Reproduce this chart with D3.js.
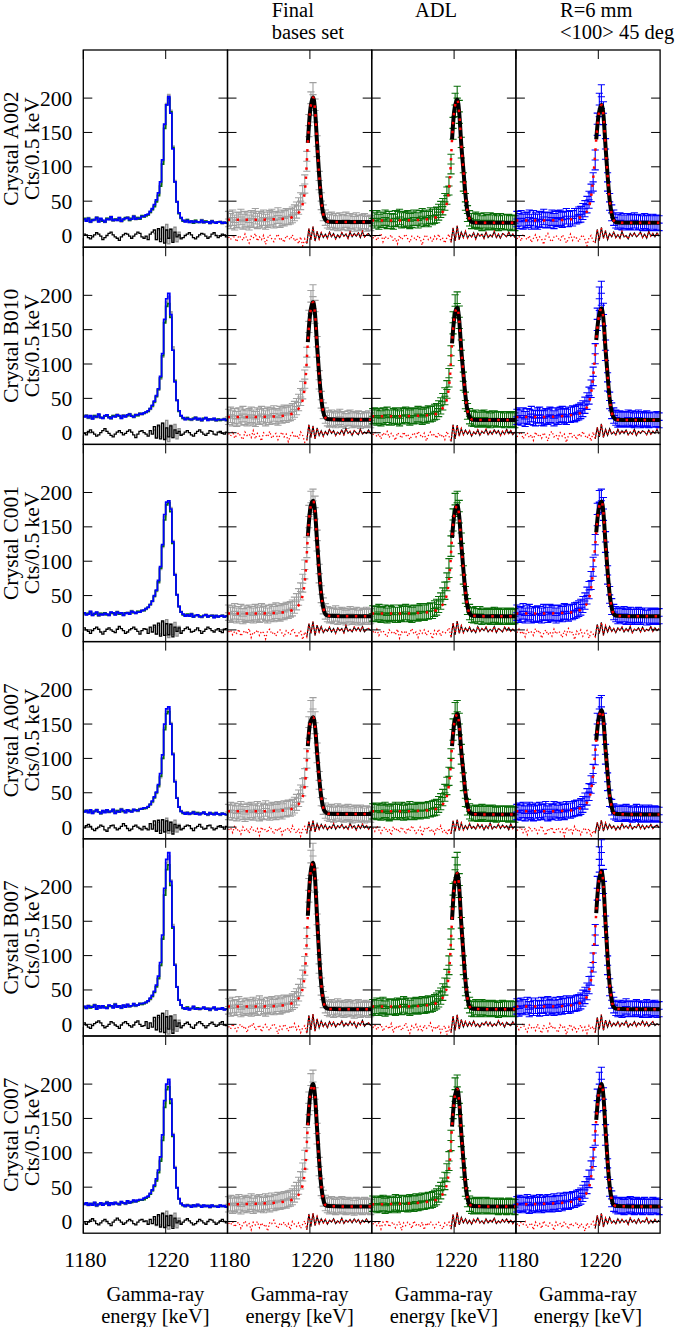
<!DOCTYPE html>
<html><head><meta charset="utf-8">
<script src="https://cdn.jsdelivr.net/npm/d3@7"></script>
<style>
body{margin:0;background:#fff}
svg{display:block}
</style>
</head><body>
<svg id="c" width="685" height="1327" font-family="'Liberation Serif', Tinos, 'Times New Roman', 'DejaVu Serif', serif" font-size="21.5"></svg>
<script>
// ---------- categories / labels ----------
const crystals = ["A002","B010","C001","A007","B007","C007"];
const methodTitles = [["Final","bases set"],["ADL"],["R=6 mm","<100> 45 deg"]];
const xTicks = [1180, 1220];
const yTicks = [0, 50, 100, 150, 200];
// fit curve read at these energies (keV)
const fitKnots = [1180,1195,1205,1210,1212,1214,1215,1216,1217,1218,1219,1220,1221,1221.6,1222.5,1223.5,1224.5,1225.5,1226.5,1227.5,1229,1235,1250];

// ---------- spectra (counts per 1 keV bin, first bin 1180-1181 keV) ----------
const final_A002 = [24,21,26,19,23,22,27,20,24,22,19,25,23,28,21,24,22,26,20,23,25,27,22,24,29,23,26,25,28,27,28,30,33,37,43,50,60,75,108,160,192,205,182,130,80,50,33,26,22,20,23,19,21,18,22,20,19,23,18,21,20,17,22,19,18,20,21,17,19,18];
const adl_A002 = [25,22,25,20,23,23,26,21,24,21,20,25,24,27,22,24,23,25,21,23,26,26,22,25,28,24,26,24,29,27,29,30,34,38,42,49,58,72,104,156,190,200,180,128,78,49,32,25,21,21,23,20,21,18,22,19,20,22,19,21,20,18,21,19,19,20,20,18,19,18];
const r6_A002 = [24,21,25,20,22,23,26,20,25,22,20,24,23,27,22,23,22,26,21,24,25,26,23,24,28,24,25,25,28,28,30,31,35,39,45,52,62,78,110,162,190,202,178,126,78,49,33,26,22,20,22,19,21,19,21,20,19,22,19,20,20,18,21,19,18,20,20,18,19,18];

const final_B010 = [23,26,21,24,20,25,22,27,23,21,24,26,22,20,25,23,27,24,21,26,23,25,28,24,22,27,25,29,26,28,29,31,34,38,44,52,62,78,110,162,190,198,176,125,77,48,32,25,21,19,22,20,18,21,23,19,20,17,21,22,18,20,19,21,17,20,18,19,21,18];
const adl_B010 = [24,25,22,24,21,25,23,26,22,22,24,25,23,21,25,24,26,24,22,25,24,25,27,25,23,26,25,28,27,28,30,31,35,39,45,53,63,80,112,160,184,188,168,120,75,47,31,24,21,20,22,19,19,21,22,19,20,18,21,21,19,20,19,20,18,20,18,19,20,18];
const r6_B010 = [23,25,22,25,20,24,23,27,22,21,25,26,22,21,24,23,26,25,21,25,23,26,27,24,23,26,26,28,27,29,30,32,35,40,46,54,64,82,115,165,195,203,172,120,74,47,32,25,22,19,21,20,19,20,22,19,21,18,20,22,18,20,19,21,18,19,19,19,20,18];

const final_C001 = [25,22,24,27,21,23,26,20,24,22,25,23,21,26,24,22,27,23,25,21,24,26,23,28,25,24,27,26,29,28,30,32,36,41,48,56,68,88,120,165,185,188,178,130,82,52,35,27,23,21,22,20,24,19,21,22,20,18,21,23,19,20,22,18,21,19,20,22,19,20];
const adl_C001 = [24,23,24,26,22,23,25,21,24,23,25,22,22,25,24,23,26,23,24,22,25,25,24,27,25,25,27,27,28,28,31,33,37,42,49,57,70,90,122,160,182,185,172,126,80,51,34,26,22,21,23,20,23,19,21,21,20,19,21,22,19,20,21,19,21,19,20,21,19,20];
const r6_C001 = [25,22,23,27,21,24,26,21,23,22,24,23,21,26,25,22,26,24,25,21,24,25,23,27,26,24,26,26,28,29,31,33,37,42,50,58,72,92,124,168,186,188,176,128,80,51,34,26,23,20,22,20,23,19,21,22,19,19,21,22,19,21,21,18,21,19,20,21,19,20];

const final_A007 = [22,25,21,24,20,23,26,22,19,24,22,25,21,23,26,20,24,22,27,23,21,25,24,22,26,25,23,27,26,28,27,29,32,36,42,49,58,72,100,145,168,172,152,108,68,43,30,24,21,19,22,18,20,23,19,21,18,20,22,19,17,21,20,18,21,19,17,20,19,18];
const adl_A007 = [23,24,22,24,21,23,25,22,20,23,22,25,22,23,25,21,24,22,26,23,22,25,24,23,25,25,24,26,26,27,28,29,33,37,43,50,60,74,100,142,165,168,150,106,66,42,29,23,20,20,21,19,20,22,19,21,19,20,21,19,18,20,20,19,20,19,18,20,19,18];
const r6_A007 = [22,24,21,25,20,23,25,22,20,24,21,25,22,23,26,20,23,22,26,24,21,25,23,22,26,24,24,26,27,28,28,30,33,38,44,51,62,78,105,150,172,175,150,106,66,42,29,23,21,19,21,19,20,22,19,20,18,20,22,19,18,21,19,18,21,19,18,20,19,18];

const final_B007 = [26,23,28,24,25,29,22,26,24,27,25,23,28,26,24,30,25,27,23,28,26,29,25,27,30,26,28,31,29,30,31,33,36,40,46,54,66,85,125,195,235,245,210,145,88,55,36,28,24,22,25,21,23,26,22,24,21,23,25,22,24,20,23,25,21,23,22,24,21,22];
const adl_B007 = [25,24,27,24,26,28,23,26,25,26,25,24,27,26,25,29,26,27,24,27,26,28,26,27,29,27,28,30,29,30,32,34,37,41,47,55,67,86,124,188,225,232,202,140,86,54,35,28,23,22,25,22,23,25,22,24,22,23,24,22,23,21,23,24,22,23,22,23,22,22];
const r6_B007 = [26,23,27,25,25,28,22,27,24,27,24,23,28,27,24,29,25,27,24,28,25,29,26,27,30,27,28,30,30,31,32,34,38,42,48,57,70,90,130,198,240,250,208,142,86,54,35,28,24,22,24,21,23,26,22,23,22,23,25,22,23,21,23,25,21,23,22,24,21,22];

const final_C007 = [25,27,23,26,24,28,22,25,27,24,26,29,23,27,25,28,26,24,29,27,25,30,27,28,31,29,30,32,31,33,34,36,40,45,52,60,72,90,122,172,198,203,178,128,80,50,34,27,24,22,25,23,21,24,22,25,23,21,24,22,23,20,24,22,23,21,24,22,23,21];
const adl_C007 = [26,26,24,26,25,27,23,25,26,24,26,28,24,27,26,27,26,25,28,27,26,29,27,28,30,29,30,31,31,32,34,36,40,45,51,59,71,88,118,166,192,196,172,124,78,49,33,26,23,22,24,23,22,24,22,24,23,22,23,22,23,21,23,22,22,21,23,22,22,21];
const r6_C007 = [25,27,24,26,24,28,23,25,27,24,26,28,24,27,25,28,26,25,29,27,26,30,27,29,31,29,31,32,32,34,35,37,41,46,53,62,75,94,126,176,200,207,178,126,78,49,33,26,24,22,24,23,21,24,22,25,23,21,24,22,23,21,24,22,22,21,24,22,23,21];

// ---------- fitted curves (values at fitKnots) ----------
const fitFinal_A002 = [23,23,24,25,28,32,35,41,53,80,135,178,197,201,182,134,88,52,31,23,20,19.5,19.5];
const fitAdl_A002   = [22,22,23,25,28,33,36,42,55,84,140,180,195,198,178,132,96,60,35,24,19,18.5,18.4];
const fitR6_A002    = [22,22,23,25,28,33,38,48,68,100,140,172,187,190,175,130,88,52,31,22,19,18.5,18.5];
const fitFinal_B010 = [23,23,24,26,29,33,37,43,55,82,132,170,187,190,172,126,84,50,30,22,19.5,19,19];
const fitAdl_B010   = [24,24,25,26,29,34,38,44,56,82,130,165,180,182,163,120,86,54,32,23,19,18.5,18.5];
const fitR6_B010    = [23,23,25,27,30,35,40,50,68,98,135,164,178,181,165,122,84,50,30,22,19,18.5,18.5];
const fitFinal_C001 = [24,24,25,27,30,34,38,45,58,86,136,172,186,188,172,128,86,52,32,23,20.5,20,20];
const fitAdl_C001   = [24,24,25,27,30,35,39,46,60,88,134,166,179,181,165,124,88,56,34,24,20.5,20,20];
const fitR6_C001    = [24,24,25,27,31,36,42,52,72,104,142,172,185,187,170,126,86,52,32,23,20.5,20,20];
const fitFinal_A007 = [23,23,24,25,28,32,35,40,50,74,118,150,158,160,146,108,72,44,28,22,19.5,19,19];
const fitAdl_A007   = [23,23,24,25,28,32,35,41,52,76,118,150,162,165,148,110,80,50,31,22,19,18.5,18.5];
const fitR6_A007    = [23,23,24,26,29,34,38,46,64,92,126,155,167,170,155,114,78,46,29,21,19,18.5,18.5];
const fitFinal_B007 = [26,26,27,29,32,36,40,47,60,92,158,210,232,235,212,155,100,58,35,25,22.5,22,22];
const fitAdl_B007   = [26,26,27,29,32,37,41,48,62,94,152,198,216,220,198,146,104,64,38,26,22.5,22,22];
const fitR6_B007    = [26,26,27,29,33,38,44,56,78,115,162,202,219,223,202,148,98,58,35,25,22.5,22,22];
const fitFinal_C007 = [25,26,28,30,33,37,41,48,60,88,140,180,197,200,182,134,88,52,32,24,22.5,22,22];
const fitAdl_C007   = [25,26,28,30,33,38,42,49,62,90,138,175,190,193,174,128,90,56,34,25,22.5,22,22];
const fitR6_C007    = [25,26,28,31,35,40,46,56,76,108,148,182,197,200,182,134,88,52,32,24,22.5,22,22];

// ---------- residuals ----------
// first column: black residual (70 bins) and grey residual around the peak (bins from 1214 keV)
const res1_A002 = [2,1,-3,-5,-2,1,4,2,-1,-6,-3,0,3,5,1,-2,-4,-7,-2,1,3,2,-1,-4,-1,2,5,3,-2,-4,-1,-6,2,5,8,-6,10,-9,12,-11,8,-4,9,-10,5,-2,1,-5,-3,0,2,4,1,-3,-5,-2,1,3,2,-1,-4,-2,2,4,0,-3,-1,2,1,-2];
const res1g_A002 = [3,-6,8,-5,12,-10,16,-12,10,-8,12,-9,5,-3];
const res1_B010 = [-1,-3,2,4,1,-2,-5,-3,0,3,6,2,-1,-4,-6,-2,1,3,0,-3,-1,2,4,1,-3,-7,-2,2,3,0,-2,-5,3,-2,9,-8,11,-9,14,-10,7,-6,10,-7,4,-1,2,-4,-2,1,3,0,-3,-5,-1,2,4,1,-2,-4,-1,3,2,-2,-3,1,2,-1,-2,1];
const res1g_B010 = [4,-7,9,-6,14,-9,18,-13,11,-7,12,-9,6,-3];
const res1_C001 = [3,0,-2,-5,-1,2,4,1,-3,-6,-2,1,3,0,-2,-4,1,5,2,-1,-5,-3,0,2,4,1,-2,-6,-1,2,1,-5,4,-3,7,-6,10,-9,13,-8,9,-7,8,-10,4,-2,3,-5,-1,2,4,1,-3,-2,0,3,-1,-5,-2,1,4,2,-1,-3,0,2,-2,-4,1,2];
const res1g_C001 = [4,-6,7,-6,11,-8,15,-11,9,-7,11,-9,5,-4];
const res1_A007 = [-1,2,4,1,-3,-5,-2,0,3,1,-4,-6,-1,2,3,-1,-4,-2,1,5,2,-2,-5,-3,1,3,0,-2,-4,1,-2,-4,5,-3,9,-6,10,-9,11,-7,9,-5,7,-10,4,-1,2,-4,-2,1,3,2,-2,-5,-1,1,4,0,-3,-2,2,3,-1,-4,-2,1,2,0,-3,1];
const res1g_A007 = [3,-5,7,-5,10,-7,13,-9,8,-6,10,-7,4,-3];
const res1_B007 = [2,-1,-4,-6,-2,1,3,5,2,-2,-5,-3,0,4,2,-1,-3,-6,-1,2,4,1,-2,-4,-1,3,5,0,-3,-2,4,-6,2,-4,10,-8,13,-11,16,-12,11,-7,12,-13,6,-3,2,-5,-2,1,3,0,-4,-6,-1,2,4,1,-2,-5,-2,1,3,0,-3,-1,2,4,-1,-2];
const res1g_B007 = [5,-8,10,-7,16,-11,20,-14,12,-8,14,-10,6,-4];
const res1_C007 = [-2,-4,-1,2,4,1,-3,-5,-2,1,3,0,-3,-6,-1,2,5,2,-1,-4,-2,1,3,1,-3,-5,-1,2,3,0,1,-4,3,-3,7,-5,10,-8,12,-9,8,-6,9,-10,5,-2,1,-4,-1,2,4,1,-2,-5,-3,0,3,1,-2,-4,0,3,2,-1,-4,-2,1,3,0,-2];
const res1g_C007 = [3,-6,8,-5,11,-8,15,-11,9,-7,12,-9,5,-3];

// fit residuals (data - fit), 70 bins
const resFinal_A002 = [-2,-6,1,-4,-9,0,-3,-7,2,-5,-11,-1,-4,3,-8,-2,-6,0,-13,-3,1,-5,-9,-2,2,-7,-4,-10,0,-3,-6,1,-8,-4,-12,-2,-15,-5,-12,10,-6,13,-8,6,-5,4,-3,2,-4,5,-2,3,-5,1,-3,4,-1,2,-4,5,-2,3,-1,4,-3,6,-2,1,3,-2];
const resAdl_A002 = [-4,0,-7,-2,3,-9,-1,-5,-3,1,-8,-4,-12,0,-6,-2,2,-5,-10,-1,-3,-7,0,-4,-14,-2,1,-6,-3,-9,-1,-5,2,-7,-4,-11,-3,2,-10,11,-8,14,-6,5,-3,6,-4,1,-2,4,-5,3,-1,2,-4,5,-3,1,-2,6,-3,2,-4,3,1,-2,5,-1,2,-3];
const resR6_A002 = [-5,-1,-8,2,-3,-6,0,-10,-4,1,-7,-2,-5,-13,-1,3,-6,-9,-2,0,-4,-8,1,-3,-11,-5,2,-7,-1,-4,-9,-2,1,-6,-15,-3,0,-8,-11,9,-7,12,-4,7,-6,3,-2,5,-3,1,-4,6,-2,0,-5,3,-1,4,-2,1,5,-3,2,-4,6,-1,3,-2,4,-1];
const resFinal_B010 = [-1,-5,2,-8,-3,0,-6,-10,1,-4,-2,-7,3,-9,-1,-5,-12,0,-3,-6,2,-8,-4,-1,-10,-3,1,-6,-2,-13,-5,0,-7,-3,-9,1,-4,-14,-11,12,-7,10,-9,7,-4,3,-5,2,-3,5,-1,3,-4,1,-2,4,-3,6,-1,2,-4,3,0,-3,5,-2,1,-1,4,-2];
const resAdl_B010 = [-3,1,-6,-2,-9,0,-4,2,-7,-1,-5,-11,0,-3,-8,1,-5,-2,-10,-4,0,-6,2,-3,-7,-1,-12,-4,1,-5,-2,-8,0,-6,-3,-10,2,-5,-13,12,-9,11,-5,6,-3,4,-2,3,-5,1,-2,4,-4,2,-1,5,-3,2,-2,4,-1,3,-4,2,-2,5,-1,3,-3,1];
const resR6_B010 = [-6,-2,1,-9,-4,0,-7,-3,-11,1,-5,-2,-8,0,-4,-12,-1,2,-6,-3,-9,0,-5,-2,-14,-4,1,-7,-3,-10,-1,-6,2,-4,-8,-3,-12,1,-9,8,-6,13,-7,5,-4,6,-2,1,-3,5,-2,3,-1,4,-3,1,-2,5,-4,2,-1,3,1,-3,4,-2,2,-1,5,-2];
const resFinal_C001 = [-3,0,-7,-2,-5,1,-9,-4,-1,-6,2,-11,-3,-5,0,-8,-2,-4,-13,-1,1,-6,-3,-9,-2,0,-5,-10,-1,-4,-7,2,-3,-11,-5,-1,-14,-3,-10,9,-5,12,-8,7,-3,5,-4,1,-2,4,-3,2,-5,3,-1,2,-4,6,-2,1,-3,4,-1,3,-2,5,-3,1,2,-1];
const resAdl_C001 = [-2,-5,1,-8,-3,-1,-6,-10,0,-4,-2,-7,1,-12,-3,-5,-1,-9,-4,2,-6,-3,-11,-1,-5,0,-8,-2,-4,-13,-1,-6,1,-9,-3,-5,-2,3,-11,10,-7,13,-5,6,-4,3,-2,4,-3,1,-4,5,-2,2,-1,4,-3,1,-2,5,-4,2,0,-3,4,-1,3,-2,1,-2];
const resR6_C001 = [-4,1,-6,-2,-10,0,-5,-3,-8,2,-4,-1,-12,-5,0,-7,-3,-9,1,-6,-2,-4,-11,-1,-7,2,-5,-3,-14,-2,-6,0,-9,-4,-1,-12,-3,-6,-10,8,-5,11,-8,6,-3,5,-2,2,-4,3,-1,4,-3,2,-2,5,-4,1,-1,3,-3,4,-2,1,-1,5,-2,3,-1,2];
const resFinal_A007 = [-4,-1,-8,2,-5,-3,-10,0,-6,-2,-9,1,-4,-7,-2,-12,0,-5,-3,-8,1,-4,-10,-2,-6,0,-11,-3,-5,-1,-8,2,-4,-9,-2,-13,-3,1,-9,8,-6,10,-7,5,-3,4,-2,3,-4,1,-2,5,-3,2,-1,4,-2,1,-3,5,-1,2,-4,3,-2,4,-1,2,-3,1];
const resAdl_A007 = [-1,-6,2,-4,-9,-2,0,-7,-3,-12,1,-5,-2,-8,0,-4,-10,-1,-6,2,-3,-9,-5,0,-13,-2,-4,1,-7,-3,-10,-1,-5,2,-8,-4,-11,-2,-10,9,-6,11,-5,6,-4,2,-3,5,-2,1,-3,4,-1,3,-4,2,-2,6,-3,1,-1,4,-2,3,-1,2,-4,5,-2,1];
const resR6_A007 = [-5,-2,0,-8,-3,-11,1,-6,-4,-1,-9,-3,2,-7,-12,-2,-5,0,-10,-4,-1,-7,-3,-13,0,-5,-2,-9,1,-6,-3,-11,-4,-1,-8,-2,-14,-5,-9,7,-5,10,-6,6,-3,4,-2,2,-4,1,-3,5,-1,2,-2,4,-3,1,-1,5,-2,3,-3,2,-1,4,-2,1,3,-1];
const resFinal_B007 = [-3,-7,1,-5,-10,-2,0,-6,-3,-12,-1,-4,2,-8,-5,-1,-11,-3,0,-6,-9,-2,1,-5,-14,-3,-7,0,-4,-10,-2,-6,1,-8,-3,-12,-5,-2,-13,13,-8,15,-10,8,-5,5,-3,2,-5,4,-2,3,-4,1,-1,5,-3,2,-2,4,-1,3,-5,2,-1,6,-3,1,2,-2];
const resAdl_B007 = [-5,-1,-8,-3,0,-10,-4,-2,-7,1,-12,-3,-6,-1,-9,-4,2,-7,-13,-2,-5,0,-8,-3,-11,-1,-6,-4,2,-9,-3,-7,-1,-12,-5,-2,-15,-4,-12,12,-9,14,-7,7,-4,4,-3,3,-2,5,-3,1,-4,2,-1,4,-2,3,-3,1,-2,5,-1,2,-4,3,0,-2,4,-1];
const resR6_B007 = [-2,-8,-4,1,-6,-11,-1,-5,-3,-9,0,-7,-13,-2,-4,-10,1,-6,-3,-8,-12,-1,-5,-2,-15,-4,0,-8,-3,-11,-6,-1,-9,-4,-13,-2,-7,-3,-12,10,-7,14,-9,6,-4,5,-3,2,-2,4,-3,2,-1,5,-4,1,-2,4,-3,2,-1,5,-2,3,-3,1,4,-2,1,-1];
const resFinal_C007 = [-2,-5,0,-8,-3,-1,-10,-4,1,-6,-3,-12,-1,-5,0,-9,-2,-7,-4,-14,-1,-3,2,-6,-10,-2,-5,-1,-8,-3,-12,0,-4,-7,-2,-10,-4,1,-12,11,-7,12,-6,7,-3,4,-2,3,-4,2,-1,4,-3,1,-2,5,-3,2,-1,3,-2,4,-1,3,-3,2,-1,4,-2,1];
const resAdl_C007 = [-4,0,-6,-2,-11,-1,-5,2,-8,-3,-1,-9,-4,0,-13,-2,-6,-1,-4,-10,1,-5,-3,-8,-1,-12,-2,-6,0,-4,-9,-3,-1,-7,-11,-2,-5,-1,-11,10,-8,13,-5,6,-2,4,-3,2,-4,3,-1,5,-2,1,-3,4,-2,2,-1,5,-3,1,-2,3,-1,4,-2,2,-3,1];
const resR6_C007 = [-3,-7,-1,-4,0,-9,-5,-2,-12,-1,-6,-3,-10,1,-5,-8,-2,-4,-13,-1,-6,-3,-9,0,-5,-11,-2,-7,-4,-1,-10,-3,-6,-14,-2,-8,-4,0,-10,9,-6,12,-8,5,-3,6,-2,1,-3,4,-2,3,-1,2,-4,5,-1,2,-3,4,-2,1,-1,5,-3,2,-2,3,-1,2];

// ---------- table built from the arrays ----------
const rows = [
  {name:"A002", spec:[final_A002,adl_A002,r6_A002], fit:[fitFinal_A002,fitAdl_A002,fitR6_A002], res:[resFinal_A002,resAdl_A002,resR6_A002], res1:res1_A002, res1g:res1g_A002},
  {name:"B010", spec:[final_B010,adl_B010,r6_B010], fit:[fitFinal_B010,fitAdl_B010,fitR6_B010], res:[resFinal_B010,resAdl_B010,resR6_B010], res1:res1_B010, res1g:res1g_B010},
  {name:"C001", spec:[final_C001,adl_C001,r6_C001], fit:[fitFinal_C001,fitAdl_C001,fitR6_C001], res:[resFinal_C001,resAdl_C001,resR6_C001], res1:res1_C001, res1g:res1g_C001},
  {name:"A007", spec:[final_A007,adl_A007,r6_A007], fit:[fitFinal_A007,fitAdl_A007,fitR6_A007], res:[resFinal_A007,resAdl_A007,resR6_A007], res1:res1_A007, res1g:res1g_A007},
  {name:"B007", spec:[final_B007,adl_B007,r6_B007], fit:[fitFinal_B007,fitAdl_B007,fitR6_B007], res:[resFinal_B007,resAdl_B007,resR6_B007], res1:res1_B007, res1g:res1g_B007},
  {name:"C007", spec:[final_C007,adl_C007,r6_C007], fit:[fitFinal_C007,fitAdl_C007,fitR6_C007], res:[resFinal_C007,resAdl_C007,resR6_C007], res1:res1_C007, res1g:res1g_C007}
];

// ---------- drawing ----------
const svg = d3.select("#c");
const L = 83.3, T = 50, CW = 144.2, RH = 197.2;
const x = d3.scaleLinear().domain([1180, 1250]).range([0, CW]);
const y = d3.scaleLinear().domain([-17, 270]).range([RH, 0]);
const colors = ["#a0a0a0", "#0a6e0a", "#0000ff"];
const bkgVar = 100; // extra variance seen in the error bars

const stepLine = d3.line().x(d => x(d[0])).y(d => y(d[1])).curve(d3.curveStepAfter);
const edges = (arr, x0) => arr.map((v, i) => [x0 + i, v]).concat([[x0 + arr.length, arr[arr.length - 1]]]);
const centers = (arr, x0) => arr.map((v, i) => [x0 + 0.5 + i, v]);
const line = d3.line().x(d => x(d[0])).y(d => y(d[1]));
const fitLine = d3.line().x(d => x(d[0])).y(d => y(d[1])).curve(d3.curveMonotoneX);

rows.forEach((row, r) => {
  const top = T + r * RH;
  // first column: overlaid spectra
  const g0 = svg.append("g").attr("transform", `translate(${L},${top})`);
  row.spec.forEach((s, k) => {
    g0.append("path").attr("d", stepLine(edges(s, 1180)))
      .attr("fill", "none").attr("stroke", colors[k]).attr("stroke-width", 1.7);
  });
  g0.append("path").attr("d", stepLine(edges(row.res1g, 1214)))
    .attr("fill", "none").attr("stroke", "#8c8c8c").attr("stroke-width", 1.4);
  g0.append("path").attr("d", stepLine(edges(row.res1, 1180)))
    .attr("fill", "none").attr("stroke", "#000").attr("stroke-width", 1.3);

  // columns 2-4: data with error bars + fit + residuals
  for (let k = 0; k < 3; k++) {
    const g = svg.append("g").attr("transform", `translate(${L + (k + 1) * CW},${top})`);
    const pts = centers(row.spec[k], 1180);
    let d = "";
    const hw = 3.6;
    pts.forEach(([e, v]) => {
      const err = Math.sqrt(v + bkgVar);
      const px = x(e), y0 = y(v), y1 = y(v - err), y2 = y(v + err);
      d += `M${px},${y1}V${y2}M${px - hw},${y1}H${px + hw}M${px - hw},${y2}H${px + hw}M${px - hw},${y0}H${px + hw}`;
    });
    g.append("path").attr("d", d).attr("fill", "none").attr("stroke", colors[k]).attr("stroke-width", 1.1);

    const res = centers(row.res[k], 1180);
    g.append("path").attr("d", line(res.filter(p => p[0] >= 1218.5)))
      .attr("fill", "none").attr("stroke", "#000").attr("stroke-width", 1.1);
    g.append("path").attr("d", line(res))
      .attr("fill", "none").attr("stroke", "#ff0000").attr("stroke-width", 1.3)
      .attr("stroke-dasharray", "1.3,2.2");

    const fp = fitKnots.map((e, i) => [e, row.fit[k][i]]);
    g.append("path").attr("d", fitLine(fp.filter(p => p[0] >= 1219)))
      .attr("fill", "none").attr("stroke", "#000").attr("stroke-width", 4);
    g.append("path").attr("d", fitLine(fp))
      .attr("fill", "none").attr("stroke", "#ff0000").attr("stroke-width", 2.5)
      .attr("stroke-dasharray", "2.5,6.5");
  }

  // frames and ticks
  for (let c = 0; c < 4; c++) {
    const g = svg.append("g").attr("transform", `translate(${L + c * CW},${top})`);
    g.append("rect").attr("x", 0).attr("y", 0).attr("width", CW).attr("height", RH)
      .attr("fill", "none").attr("stroke", "#000").attr("stroke-width", 1.3);
    yTicks.forEach(v => {
      g.append("line").attr("x1", 0).attr("x2", 9).attr("y1", y(v)).attr("y2", y(v)).attr("stroke", "#000");
      g.append("line").attr("x1", CW - 9).attr("x2", CW).attr("y1", y(v)).attr("y2", y(v)).attr("stroke", "#000");
    });
    xTicks.forEach(v => {
      g.append("line").attr("x1", x(v)).attr("x2", x(v)).attr("y1", 0).attr("y2", 9).attr("stroke", "#000");
      g.append("line").attr("x1", x(v)).attr("x2", x(v)).attr("y1", RH - 9).attr("y2", RH).attr("stroke", "#000");
    });
  }

  // y tick labels
  yTicks.forEach(v => {
    svg.append("text").attr("x", L - 11).attr("y", top + y(v)).attr("dy", "0.35em")
      .attr("text-anchor", "end").text(v);
  });
  // row label
  const cy = top + RH / 2;
  svg.append("text").attr("transform", `translate(18,${cy}) rotate(-90)`)
    .attr("text-anchor", "middle").text("Crystal " + row.name);
  svg.append("text").attr("transform", `translate(38.5,${cy}) rotate(-90)`)
    .attr("text-anchor", "middle").text("Cts/0.5 keV");
});

// x tick labels and axis titles (two-line titles slightly smaller so lines do not collide)
for (let c = 0; c < 4; c++) {
  const left = L + c * CW;
  xTicks.forEach(v => {
    svg.append("text").attr("x", left + x(v) + 2).attr("y", 1267).attr("text-anchor", "middle").text(v);
  });
  svg.append("text").attr("x", left + CW / 2).attr("y", 1301).attr("text-anchor", "middle")
    .attr("font-size", 20.5).text("Gamma-ray");
  svg.append("text").attr("x", left + CW / 2).attr("y", 1322.5).attr("text-anchor", "middle")
    .attr("font-size", 20.5).text("energy [keV]");
}

// column titles
const titlePos = [271.7, 415, 560];
methodTitles.forEach((lines, k) => {
  lines.forEach((t, j) => {
    svg.append("text").attr("x", titlePos[k]).attr("y", 17 + j * 21.5)
      .attr("font-size", 20.5).text(t);
  });
});
</script>
</body></html>
